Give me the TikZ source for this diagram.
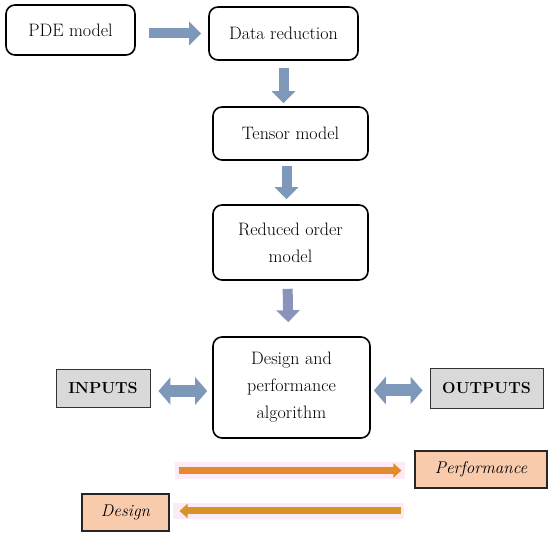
\documentclass[tikz,border=0pt]{standalone}
\usetikzlibrary{arrows.meta}

\definecolor{flowblue}{RGB}{125,152,184}
\definecolor{flowlilac}{RGB}{138,148,186}
\definecolor{boxgray}{RGB}{217,217,217}
\definecolor{peach}{RGB}{248,203,173}
\definecolor{arroworange}{RGB}{228,138,46}
\definecolor{arrowochre}{RGB}{214,148,40}
\definecolor{bandpink}{RGB}{253,234,247}

\begin{document}
\begin{tikzpicture}[x=1pt, y=-1pt, font=\fontsize{18}{27}\selectfont,
  roundbox/.style={draw, line width=1.6pt, rounded corners=9pt, align=center, inner sep=0pt},
  graybox/.style={draw=black!80, line width=0.9pt, fill=boxgray, inner sep=0pt, font=\fontsize{16}{20}\selectfont\bfseries},
  peachbox/.style={draw=black!85, line width=1.1pt, fill=peach, inner sep=0pt, font=\fontsize{17}{20}\selectfont\itshape},
  bigarrow/.style={flowblue, line width=10pt, -{Triangle[width=23pt,length=12pt]}},
  bothways/.style={flowblue, line width=12pt, {Triangle[width=27pt,length=12pt]}-{Triangle[width=27pt,length=12pt]}},
  thinarrow/.style={line width=7pt, -{Triangle[width=14pt,length=8pt]}}]
\useasboundingbox (0,0) rectangle (550,537);

% main chain
\node[roundbox, minimum width=129pt, minimum height=50pt] (pde) at (70.5,30) {PDE model};
\node[roundbox, minimum width=149pt, minimum height=53pt] (datared) at (283.5,33.5) {Data reduction};
\node[roundbox, minimum width=155pt, minimum height=53pt] (tensor) at (290.5,133.5) {Tensor model};
\node[roundbox, minimum width=155pt, minimum height=75pt] (rom) at (290.5,242.5) {Reduced order\\model};
\node[roundbox, minimum width=157pt, minimum height=101pt] (dpa) at (291.5,387.5) {Design and\\performance\\algorithm};

\draw[bigarrow, shorten <=13pt, shorten >=7pt] (pde.east |- datared.west) -- (datared.west);
\draw[bigarrow, shorten <=7pt, shorten >=3pt] (datared.south) -- (datared.south |- tensor.north);
\draw[bigarrow, shorten <=5pt, shorten >=5pt] ([xshift=-4pt]tensor.south) -- ([xshift=-4pt]rom.north);
\draw[bigarrow, flowlilac, shorten <=8pt, shorten >=14pt] ([xshift=-3pt]rom.south) -- ([xshift=-3pt]dpa.north);

% inputs and outputs
\node[graybox, minimum width=94pt, minimum height=38pt] (inputs) at (103,388) {INPUTS};
\node[graybox, minimum width=113pt, minimum height=40pt] (outputs) at (486.5,388) {OUTPUTS};
\draw[bothways, shorten <=8pt, shorten >=5pt] ([yshift=-3pt]inputs.east) -- ([yshift=-3pt]inputs.east -| dpa.west);
\draw[bothways, shorten <=3pt, shorten >=7pt] ([yshift=-3pt]dpa.east) -- ([yshift=-3pt]dpa.east -| outputs.west);

% design / performance loop
\node[peachbox, minimum width=132pt, minimum height=37pt] (perf) at (481,469.5) {Performance};
\node[peachbox, minimum width=87pt, minimum height=37pt] (design) at (125.5,512.5) {Design};
\fill[bandpink] (175,462) rectangle (405,479);
\fill[bandpink] (173,503) rectangle (404,519);
\coordinate (perfstart) at (179,470.5);
\coordinate (designstart) at (401,511);
\draw[thinarrow, arroworange, shorten >=13pt] (perfstart) -- (perf.west |- perfstart);
\draw[thinarrow, arrowochre, shorten >=10pt] (designstart) -- (design.east |- designstart);
\end{tikzpicture}
\end{document}
